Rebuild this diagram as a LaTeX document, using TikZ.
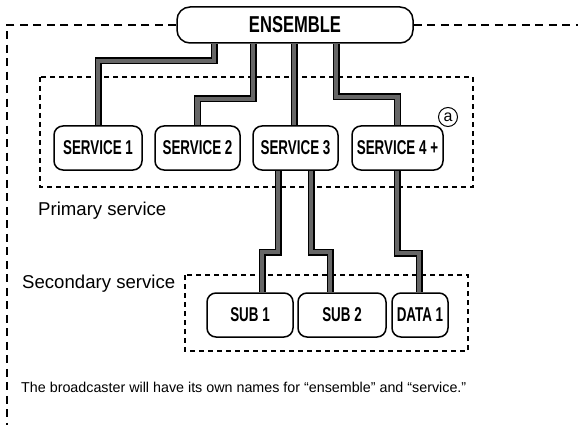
\documentclass[tikz,border=0pt]{standalone}
\usepackage{fontspec}
\setmainfont{Liberation Sans}
\newfontfamily\boxfont[FakeStretch=0.67]{Liberation Sans}
\newfontfamily\ensfont[FakeStretch=0.72]{Liberation Sans}
\begin{document}
\begin{tikzpicture}[x=1pt,y=-1pt,
  box/.style={draw=black,line width=1.5pt,rounded corners=9pt,fill=white,
    minimum height=44pt,inner sep=0pt,
    font=\boxfont\bfseries\fontsize{20}{22}\selectfont},
  ensbox/.style={box,rounded corners=13pt,minimum height=36pt,
    font=\ensfont\bfseries\fontsize{23}{25}\selectfont},
  dashbox/.style={draw=black,line width=1.3pt,dash pattern=on 5pt off 4pt},
  outerdash/.style={draw=black,line width=1.4pt,dash pattern=on 8pt off 5.5pt},
  conn/.style={draw=black,line width=1.4pt,double=black!60,double distance=4.2pt,line join=miter},
  lbl/.style={anchor=base west,inner sep=0pt,font=\fontsize{18.6}{20}\selectfont},
  note/.style={anchor=base west,inner sep=0pt,font=\fontsize{14.3}{16}\selectfont}]
\useasboundingbox (0,0) rectangle (578,425);
% dashed frames
\draw[dashbox] (40,77) rectangle (473,187);
\draw[dashbox] (185,275) rectangle (468,351);
% nodes
\node[ensbox,minimum width=236pt] (ens) at (295,25) {ENSEMBLE};
\node[box,minimum width=88pt] (s1) at (98,148) {SERVICE 1};
\node[box,minimum width=85pt] (s2) at (197.5,148) {SERVICE 2};
\node[box,minimum width=85pt] (s3) at (295.5,148) {SERVICE 3};
\node[box,minimum width=91pt] (s4) at (397.5,148) {SERVICE 4 +};
\node[box,minimum width=86pt] (sub1) at (250,315) {SUB 1};
\node[box,minimum width=88pt] (sub2) at (342,315) {SUB 2};
\node[box,minimum width=56pt] (data1) at (420,315) {DATA 1};
\node[draw=black,circle,line width=1pt,minimum size=19pt,inner sep=0pt,
  font=\fontsize{16}{16}\selectfont] (mark) at (448,117) {a};
\node[lbl] (prim) at (38,215) {Primary service};
\node[lbl] (sec) at (22,288) {Secondary service};
\node[note] (txt) at (21,392) {The broadcaster will have its own names for “ensemble” and “service.”};
% outer dashed frame
\coordinate (oL) at (7,25);
\coordinate (oB) at (7,425);
\coordinate (oR) at (578,25);
\draw[outerdash] (ens.west) -- (oL) -- (oB);
\draw[outerdash] (ens.east) -- (oR);
% connectors
\draw[conn] (ens.south -| 214,0) -- (214,61) -| (s1.north);
\draw[conn] (ens.south -| 253,0) -- (253,99) -| (s2.north);
\draw[conn] (ens.south -| 294,0) -- (s3.north -| 294,0);
\draw[conn] (ens.south -| 336,0) -- (336,97) -| (s4.north);
\draw[conn] (s3.south -| 278,0) -- (278,252) -| (sub1.north -| 262,0);
\draw[conn] (s3.south -| 311,0) -- (311,252) -| (sub2.north -| 330,0);
\draw[conn] (s4.south -| 397,0) -- (397,253) -| (data1.north -| 419,0);
\end{tikzpicture}
\end{document}
